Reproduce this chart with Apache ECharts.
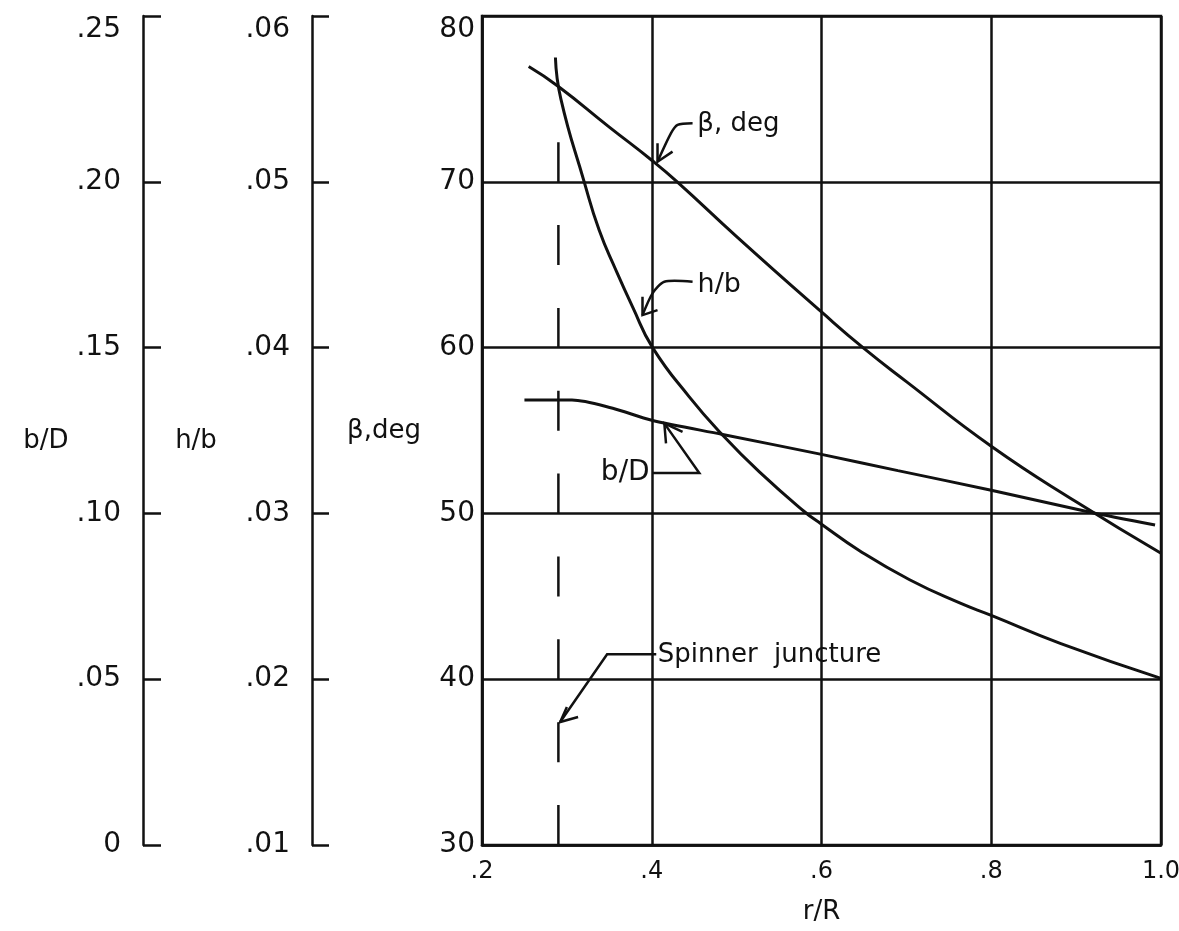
<!DOCTYPE html>
<html><head><meta charset="utf-8">
<script src="https://cdn.jsdelivr.net/npm/echarts@6/dist/echarts.min.js"></script>
<style>html,body{margin:0;padding:0;background:#fff}#c{width:1179px;height:931px}</style>
</head><body><div id="c"></div>
<script>
// tick labels
const xTicks = ['.2', '.4', '.6', '.8', '1.0'];
const betaTicks = ['30', '40', '50', '60', '70', '80'];
const hbTicks = ['.01', '.02', '.03', '.04', '.05', '.06'];
const bdTicks = ['0', '.05', '.10', '.15', '.20', '.25'];

// beta, deg vs r/R
const betaR = [0.255, 0.29, 0.35, 0.40, 0.43, 0.50, 0.60, 0.65, 0.70, 0.80, 0.90, 1.00];
const betaVals = [76.95, 75.75, 73.3, 71.3, 70.0, 66.7, 62.15, 59.95, 57.95, 54.05, 50.7, 47.6];

// h/b vs r/R
const hbR = [0.2865, 0.2929, 0.3204, 0.338, 0.3577, 0.3774, 0.401, 0.4442, 0.4835, 0.5268, 0.58, 0.60, 0.6448, 0.7038, 0.7628, 0.80, 0.882, 1.00];
const hbVals = [0.0575, 0.0550, 0.0500, 0.04709, 0.04468, 0.04246, 0.0400, 0.03703, 0.03472, 0.0325, 0.0301, 0.02935, 0.02775, 0.0260, 0.0246, 0.02385, 0.02215, 0.02005];

// b/D vs r/R
const bdR = [0.25, 0.306, 0.354, 0.40, 0.4836, 0.60, 0.69, 0.80, 0.914, 0.993];
const bdVals = [0.1342, 0.1342, 0.1317, 0.1281, 0.1238, 0.1178, 0.1129, 0.1070, 0.1005, 0.0965];

// spinner juncture (r/R) and extent of the dashed line (deg)
const spinnerR = 0.29;
const spinnerSpan = [30, 72.4];

const FONT = 'DejaVu Sans';
const INK = '#111';

const chart = echarts.init(document.getElementById('c'), null, {renderer: 'canvas'});

function zip(xs, ys) { return xs.map((x, i) => [x, ys[i]]); }

const tickFont = {color: INK, fontFamily: FONT, fontSize: 28};

const option = {
  animation: false,
  backgroundColor: '#fff',
  grid: {left: 482, right: 18, top: 16, bottom: 86, containLabel: false, outerBoundsMode: 'none',
    show: true, borderColor: INK, borderWidth: 2.5, backgroundColor: 'transparent'},
  xAxis: {
    type: 'value', min: 0.2, max: 1.0, interval: 0.2,
    axisLine: {show: true, lineStyle: {color: INK, width: 2.5}},
    axisTick: {show: false},
    splitLine: {show: true, lineStyle: {color: INK, width: 2.5}},
    axisLabel: {color: INK, fontFamily: FONT, fontSize: 24, margin: 15,
      formatter: v => xTicks[Math.round((v - 0.2) / 0.2)]},
    name: 'r/R', nameLocation: 'middle', nameGap: 54,
    nameTextStyle: {color: INK, fontFamily: FONT, fontSize: 26}
  },
  yAxis: [
    {
      type: 'value', min: 30, max: 80, interval: 10, position: 'left', offset: 0,
      axisLine: {show: true, lineStyle: {color: INK, width: 2.5}},
      axisTick: {show: false},
      splitLine: {show: true, lineStyle: {color: INK, width: 2.5}},
      axisLabel: Object.assign({margin: 7, verticalAlignMaxLabel: 'top',
        formatter: v => betaTicks[Math.round((v - 30) / 10)]}, tickFont)
    },
    {
      type: 'value', min: 0.01, max: 0.06, interval: 0.01, position: 'left', offset: 170,
      axisLine: {show: true, onZero: false, lineStyle: {color: INK, width: 2.5}},
      axisTick: {show: true, inside: true, length: 17, lineStyle: {color: INK, width: 2.5}},
      splitLine: {show: false},
      axisLabel: Object.assign({margin: 22, verticalAlignMaxLabel: 'top',
        formatter: v => hbTicks[Math.round((v - 0.01) / 0.01)]}, tickFont)
    },
    {
      type: 'value', min: 0, max: 0.25, interval: 0.05, position: 'left', offset: 339,
      axisLine: {show: true, onZero: false, lineStyle: {color: INK, width: 2.5}},
      axisTick: {show: true, inside: true, length: 18, lineStyle: {color: INK, width: 2.5}},
      splitLine: {show: false},
      axisLabel: Object.assign({margin: 22, verticalAlignMaxLabel: 'top',
        formatter: v => bdTicks[Math.round(v / 0.05)]}, tickFont)
    }
  ],
  series: [
    {name: 'β, deg', type: 'line', yAxisIndex: 0, data: zip(betaR, betaVals), smooth: 0.5,
      symbol: 'none', lineStyle: {color: INK, width: 3}},
    {name: 'h/b', type: 'line', yAxisIndex: 1, data: zip(hbR, hbVals), smooth: 0.5,
      symbol: 'none', lineStyle: {color: INK, width: 3}},
    {name: 'b/D', type: 'line', yAxisIndex: 2, data: zip(bdR, bdVals), smooth: 0.3,
      symbol: 'none', lineStyle: {color: INK, width: 3}},
    {name: 'Spinner juncture', type: 'line', yAxisIndex: 0,
      data: [[spinnerR, spinnerSpan[0]], [spinnerR, spinnerSpan[1]]],
      symbol: 'none', lineStyle: {color: INK, width: 2.5, type: [40, 42.85]}}
  ]
};
chart.setOption(option);

// annotation leaders in data coordinates (r/R, deg)
const annBeta = {text: 'β, deg', size: 26, at: [0.4537, 73.45], align: 'left',
  path: [[0.4481, 73.53], [0.4304, 73.43], [0.4227, 72.93], [0.4068, 71.21]],
  head: [[0.4068, 72.32], [0.4068, 71.21], [0.4245, 71.82]]};
const annHb = {text: 'h/b', size: 27, at: [0.4540, 63.8], align: 'left',
  path: [[0.4481, 63.97], [0.4148, 63.97], [0.4009, 63.27], [0.3891, 61.96]],
  head: [[0.3891, 63.07], [0.3891, 61.96], [0.4068, 62.26]]};
const annBd = {text: 'b/D', size: 28, at: [0.3975, 52.45], align: 'right',
  path: [[0.4009, 52.44], [0.4560, 52.44], [0.4148, 55.43]],
  head: [[0.4168, 54.22], [0.4148, 55.43], [0.4363, 54.92]]};
const annSp = {text: 'Spinner  juncture', size: 26, at: [0.4070, 41.45], align: 'left',
  path: [[0.4053, 41.5], [0.3474, 41.5], [0.2921, 37.42]],
  head: [[0.3000, 38.32], [0.2921, 37.42], [0.3132, 37.72]]};

function px(p) { return chart.convertToPixel({xAxisIndex: 0, yAxisIndex: 0}, p); }

const graphics = [];
[annBeta, annHb, annBd, annSp].forEach((a, i) => {
  graphics.push({type: 'polyline', shape: {points: a.path.map(px), smooth: i < 2 ? 0.25 : 0},
    style: {stroke: INK, lineWidth: 2.5, fill: null}, z: 50});
  graphics.push({type: 'polyline', shape: {points: a.head.map(px)},
    style: {stroke: INK, lineWidth: 2.5, fill: null}, z: 50});
  const t = px(a.at);
  graphics.push({type: 'text', x: t[0], y: t[1], z: 50,
    style: {text: a.text, fill: INK, fontFamily: FONT, fontSize: a.size,
      align: a.align, verticalAlign: 'middle'}});
});
// axis titles
const titleStyle = {fill: INK, fontFamily: FONT, fontSize: 26, align: 'center', verticalAlign: 'middle'};
graphics.push({type: 'text', x: 46, y: 441, style: Object.assign({text: 'b/D'}, titleStyle)});
graphics.push({type: 'text', x: 196, y: 441, style: Object.assign({text: 'h/b'}, titleStyle)});
graphics.push({type: 'text', x: 384, y: 431, style: Object.assign({text: 'β,deg'}, titleStyle)});

chart.setOption({graphic: graphics});
</script></body></html>
